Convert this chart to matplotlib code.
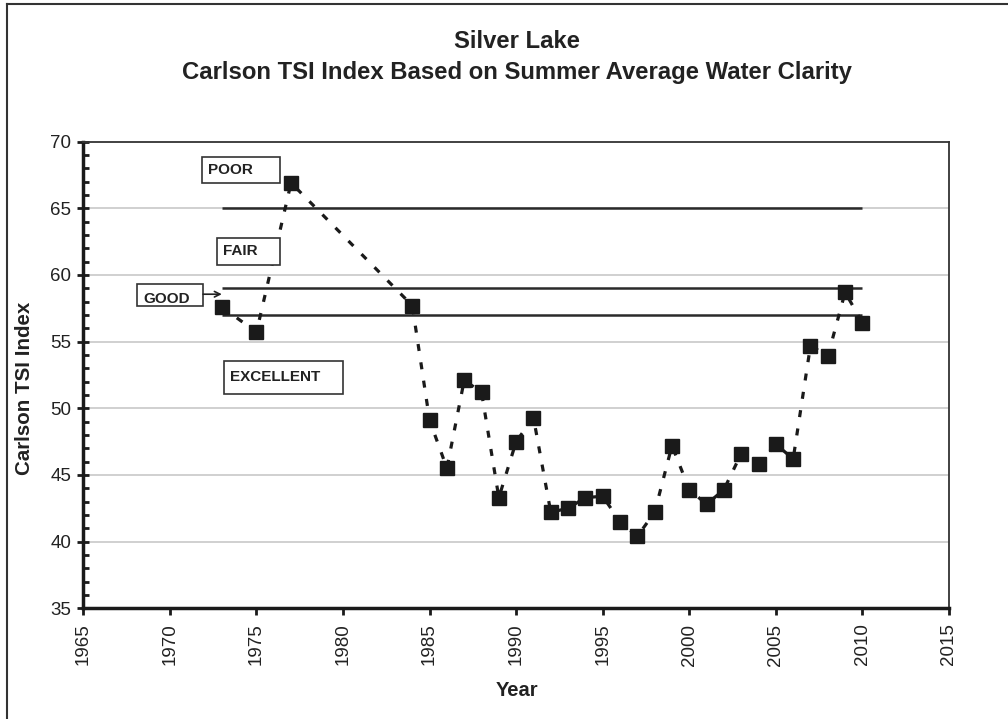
import matplotlib
matplotlib.use("Agg")
import matplotlib.pyplot as plt
from matplotlib.patches import Rectangle
from matplotlib.lines import Line2D
from matplotlib.ticker import MultipleLocator

plt.rcParams['font.family'] = ['Liberation Sans', 'DejaVu Sans']

# ---- data ----
years = [1973, 1975, 1977, 1984, 1985, 1986, 1987, 1988, 1989, 1990, 1991,
         1992, 1993, 1994, 1995, 1996, 1997, 1998, 1999, 2000, 2001, 2002,
         2003, 2004, 2005, 2006, 2007, 2008, 2009, 2010]
tsi = [57.6, 55.7, 66.9, 57.7, 49.1, 45.5, 52.1, 51.2, 43.3, 47.5, 49.3,
       42.2, 42.5, 43.3, 43.4, 41.5, 40.4, 42.2, 47.2, 43.9, 42.8, 43.9,
       46.6, 45.8, 47.3, 46.2, 54.7, 53.9, 58.7, 56.4]
thresholds = [65, 59, 57]
threshold_start, threshold_end = 1973, 2010
class_labels = ["POOR", "FAIR", "GOOD", "EXCELLENT"]
title_lines = ["Silver Lake", "Carlson TSI Index Based on Summer Average Water Clarity"]

W, H = 1008, 719
fig = plt.figure(figsize=(W / 100, H / 100), dpi=100)
ax = fig.add_axes([83.3 / W, 1 - 608.3 / H, (949 - 83.3) / W, (608.3 - 141.5) / H])

ax.set_xlim(1965, 2015)
ax.set_ylim(35, 70)

# grid
for v in range(40, 70, 5):
    ax.axhline(v, color='#c8c8c8', lw=1.2, zorder=0)

# threshold lines
ax.hlines(thresholds, threshold_start, threshold_end, colors='#2a2a2a', lw=1.8, zorder=2)

# data
ax.plot(years, tsi, color='#1a1a1a', lw=2.3, ls=(0, (2.2, 3.6)), marker='s',
        markersize=9.8, markerfacecolor='#1a1a1a', markeredgecolor='#1a1a1a', zorder=3)

# class label boxes (x0, x1, y0, y1 in data coords)
boxes = {
    "POOR": (1971.84, 1976.36, 66.88, 68.87),
    "FAIR": (1972.71, 1976.36, 60.75, 62.80),
    "GOOD": (1968.10, 1971.92, 57.70, 59.32),
    "EXCELLENT": (1973.13, 1980.0, 51.07, 53.57),
}
for lab in class_labels:
    x0, x1, y0, y1 = boxes[lab]
    ax.add_patch(Rectangle((x0, y0), x1 - x0, y1 - y0, facecolor='white',
                           edgecolor='#333333', lw=1.2, zorder=4))
    ty = (y0 + y1) / 2 if lab != "GOOD" else y0 + (y1 - y0) * 0.3
    ax.text(x0 + 0.35, ty, lab, fontsize=11, fontweight='bold', color='#222222',
            ha='left', va='center', zorder=5)
ax.annotate('', xy=(1973.0, 58.55), xytext=(1971.92, 58.55),
            arrowprops=dict(arrowstyle='->', lw=1.2, color='#222222',
                            shrinkA=0, shrinkB=0), zorder=5)

# spines
for s in ['left', 'bottom']:
    ax.spines[s].set_linewidth(2.5)
    ax.spines[s].set_color('#1a1a1a')
for s in ['top', 'right']:
    ax.spines[s].set_linewidth(1.3)
    ax.spines[s].set_color('#333333')

# ticks
ax.xaxis.set_major_locator(MultipleLocator(5))
ax.yaxis.set_major_locator(MultipleLocator(5))
ax.yaxis.set_minor_locator(MultipleLocator(1))
ax.tick_params(axis='x', which='major', direction='out', length=5, width=2,
               color='#1a1a1a', labelsize=13.5, labelcolor='#222222', pad=6,
               labelrotation=90)
ax.tick_params(axis='y', which='major', direction='inout', length=9, width=2,
               color='#1a1a1a', labelsize=13.5, labelcolor='#222222', pad=4)
ax.tick_params(axis='y', which='minor', direction='in', length=4, width=2,
               color='#1a1a1a')
ax.set_xticklabels([str(int(v)) for v in ax.get_xticks()])

# labels and title
fig.text(25 / W, 1 - 388 / H, "Carlson TSI Index", rotation=90, ha='center', va='center',
         fontsize=14.8, fontweight='bold', color='#222222')
fig.text(517 / W, 1 - 690 / H, "Year", ha='center', va='center',
         fontsize=14.5, fontweight='bold', color='#222222')
fig.text(517 / W, 1 - 41 / H, title_lines[0], ha='center', va='center',
         fontsize=17.2, fontweight='bold', color='#222222')
fig.text(517 / W, 1 - 73 / H, title_lines[1], ha='center', va='center',
         fontsize=17.2, fontweight='bold', color='#222222')

# outer frame (left & top visible)
fig.add_artist(Line2D([6.5 / W, 6.5 / W], [0, 1 - 3.5 / H], transform=fig.transFigure,
                      color='#333333', lw=1.5))
fig.add_artist(Line2D([6.5 / W, 1], [1 - 3.5 / H, 1 - 3.5 / H], transform=fig.transFigure,
                      color='#333333', lw=1.5))

fig.savefig("out.png", dpi=100)
